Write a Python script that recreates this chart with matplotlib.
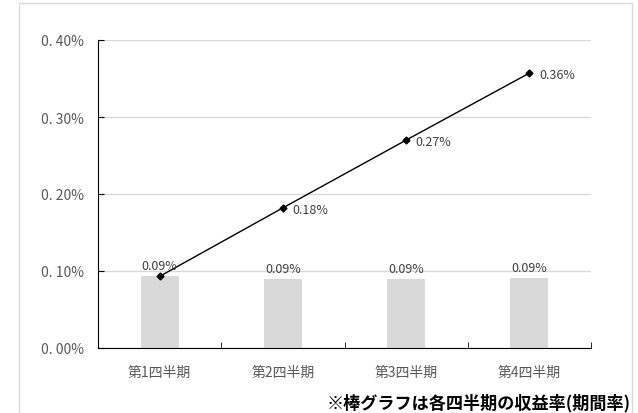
import matplotlib
matplotlib.use("Agg")
import matplotlib.pyplot as plt
from matplotlib.patches import Rectangle

plt.rcParams['font.family'] = ['Noto Sans CJK JP', 'DejaVu Sans']

categories = ['第1四半期', '第2四半期', '第3四半期', '第4四半期']
bar_values = [0.093, 0.090, 0.090, 0.091]          # % per quarter
bar_labels = ['0.09%', '0.09%', '0.09%', '0.09%']
line_values = [0.093, 0.182, 0.270, 0.357]         # cumulative %
line_labels = ['0.09%', '0.18%', '0.27%', '0.36%']
y_ticks = [0.0, 0.1, 0.2, 0.3, 0.4]
y_tick_labels = ['0. 00%', '0. 10%', '0. 20%', '0. 30%', '0. 40%']
note = '※棒グラフは各四半期の収益率(期間率)'

fig = plt.figure(figsize=(6.38, 4.14), dpi=100)
fig.patch.set_facecolor('white')
fig.patches.append(Rectangle((19/638, -0.2), (632-19)/638, 1.2 - 4/414,
                             transform=fig.transFigure, fill=False,
                             edgecolor='#d9d9d9', linewidth=1.0))
ax = fig.add_axes([98/638, 1-349/414, (591-98)/638, (349-41)/414])

x = list(range(len(categories)))
ax.bar(x, bar_values, width=0.31, color='#d9d9d9', zorder=2)
ax.plot(x, line_values, color='black', linewidth=1.0, marker='D',
        markersize=3.5, zorder=3)

for xi, v, lab in zip(x, bar_values, bar_labels):
    ax.annotate(lab, (xi, v), xytext=(0, 3), textcoords='offset points',
                ha='center', va='bottom', fontsize=9, color='#404040')
for xi, v, lab in list(zip(x, line_values, line_labels))[1:]:
    ax.annotate(lab, (xi, v), xytext=(7, -1), textcoords='offset points',
                ha='left', va='center', fontsize=9, color='#404040')

ax.set_xlim(-0.5, len(categories) - 0.5)
ax.set_ylim(0, 0.4)
ax.set_yticks(y_ticks)
ax.set_yticklabels(y_tick_labels, fontsize=10, color='#595959')
ax.set_xticks(x)
ax.set_xticklabels(categories, fontsize=10, color='#595959')
ax.set_xticks([i - 0.5 for i in range(len(categories) + 1)], minor=True)
ax.tick_params(axis='x', which='major', length=0, pad=12)
ax.tick_params(axis='x', which='minor', direction='in', length=4, color='black')
ax.tick_params(axis='y', direction='in', length=4, color='black', pad=10)
ax.grid(axis='y', color='#d9d9d9', linewidth=1.0, zorder=0)
ax.set_axisbelow(True)
for s in ['top', 'right']:
    ax.spines[s].set_visible(False)
ax.spines['left'].set_color('black')
ax.spines['bottom'].set_color('black')

fig.text(631/638, 1-412/414, note, ha='right', va='bottom', fontsize=12.3,
         fontweight='bold', color='black')

fig.savefig('out.png', dpi=100)
